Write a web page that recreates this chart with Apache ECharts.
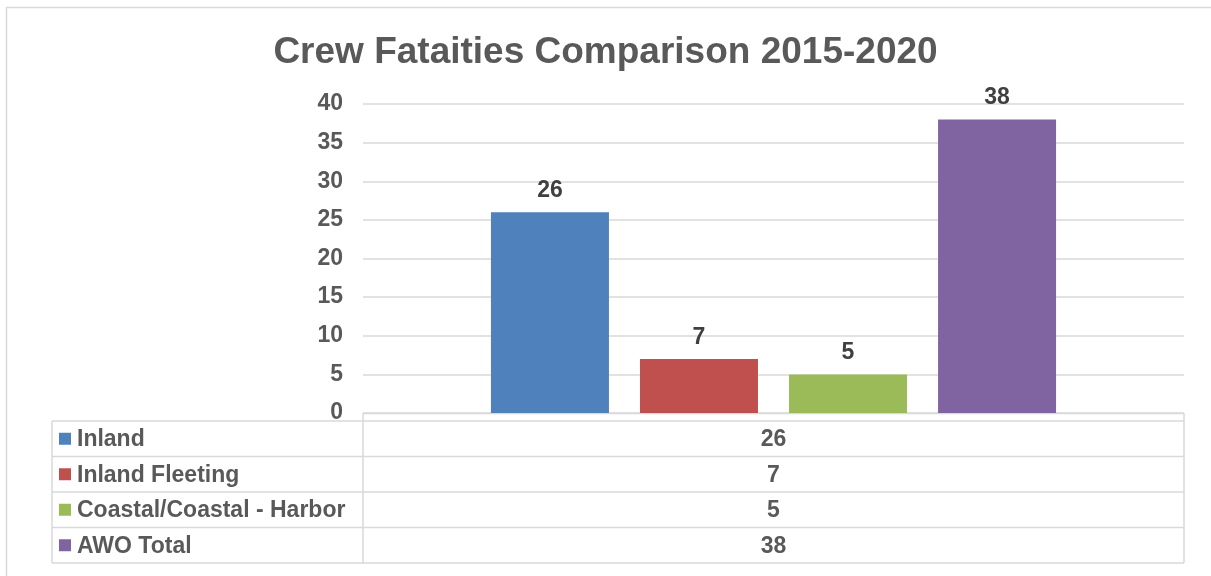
<!DOCTYPE html>
<html>
<head>
<meta charset="utf-8">
<script src="https://cdn.jsdelivr.net/npm/echarts@6/dist/echarts.min.js"></script>
<style>
html,body{margin:0;padding:0;background:#fff;}
#main{width:1211px;height:576px;}
</style>
</head>
<body>
<div id="main"></div>
<script>
const titleText = 'Crew Fataities Comparison 2015-2020';
const categories = [''];
const seriesNames = ['Inland', 'Inland Fleeting', 'Coastal/Coastal - Harbor', 'AWO Total'];
const seriesValues = [[26], [7], [5], [38]];
const seriesColors = ['#4F81BD', '#C0504D', '#9BBB59', '#8064A2'];
const yTicks = [0, 5, 10, 15, 20, 25, 30, 35, 40];

const FONT = 'Arial, "Liberation Sans", sans-serif';
const W = 1211, H = 576;
const gridLeft = 363, gridRight = 1184, gridTop = 104, gridBottom = 413;
const lineColor = '#D9D9D9';
const FS = 23;

const chart = echarts.init(document.getElementById('main'), null, {renderer: 'canvas'});

const series = seriesNames.map((name, i) => ({
  name: name,
  type: 'bar',
  data: seriesValues[i],
  barWidth: 118,
  barGap: '26.3%',
  itemStyle: {color: seriesColors[i]},
  label: {
    show: true,
    position: 'top',
    distance: 10,
    fontFamily: FONT,
    fontWeight: 'bold',
    fontSize: FS,
    color: '#404040'
  }
}));

const rowLines = [421, 456.5, 492, 527.5, 563];
const graphics = [];
graphics.push({type: 'rect', shape: {x: 6.5, y: 7.5, width: 1220, height: 600},
  style: {fill: null, stroke: lineColor, lineWidth: 1.5}, silent: true});
graphics.push({type: 'line', shape: {x1: gridLeft, y1: gridBottom + 0.5, x2: gridRight, y2: gridBottom + 0.5},
  style: {stroke: lineColor, lineWidth: 1.5}});
rowLines.forEach(y => {
  graphics.push({type: 'line', shape: {x1: 52, y1: y, x2: gridRight, y2: y},
    style: {stroke: lineColor, lineWidth: 1.5}});
});
graphics.push({type: 'line', shape: {x1: 52, y1: rowLines[0], x2: 52, y2: rowLines[4]}, style: {stroke: lineColor, lineWidth: 1.5}});
graphics.push({type: 'line', shape: {x1: gridLeft, y1: gridBottom, x2: gridLeft, y2: rowLines[4]}, style: {stroke: lineColor, lineWidth: 1.5}});
graphics.push({type: 'line', shape: {x1: gridRight, y1: gridBottom, x2: gridRight, y2: rowLines[4]}, style: {stroke: lineColor, lineWidth: 1.5}});

seriesNames.forEach((name, i) => {
  const cy = (rowLines[i] + rowLines[i + 1]) / 2;
  graphics.push({type: 'rect', shape: {x: 59, y: cy - 6, width: 12, height: 12},
    style: {fill: seriesColors[i]}});
  graphics.push({type: 'text', x: 77, y: cy + 1,
    style: {text: name, font: 'bold ' + FS + 'px ' + FONT, fill: '#595959', textVerticalAlign: 'middle', textAlign: 'left'}});
  graphics.push({type: 'text', x: (gridLeft + gridRight) / 2, y: cy + 1,
    style: {text: String(seriesValues[i][0]), font: 'bold ' + FS + 'px ' + FONT, fill: '#595959', textVerticalAlign: 'middle', textAlign: 'center'}});
});

chart.setOption({
  animation: false,
  backgroundColor: '#fff',
  title: {
    text: titleText,
    left: 'center',
    top: 29,
    textStyle: {fontFamily: FONT, fontWeight: 'bold', fontSize: 37, color: '#595959'}
  },
  grid: {left: gridLeft, right: W - gridRight, top: gridTop, bottom: H - gridBottom, containLabel: false},
  xAxis: {
    type: 'category',
    data: categories,
    axisLine: {show: false},
    axisTick: {show: false},
    axisLabel: {show: false}
  },
  yAxis: {
    type: 'value',
    min: yTicks[0],
    max: yTicks[yTicks.length - 1],
    interval: yTicks[1] - yTicks[0],
    axisLine: {show: false},
    axisTick: {show: false},
    axisLabel: {
      margin: 20,
      fontFamily: FONT, fontWeight: 'bold', fontSize: FS, color: '#595959',
      formatter: v => yTicks.indexOf(v) >= 0 ? String(v) : ''
    },
    splitLine: {lineStyle: {color: lineColor, width: 1.5}}
  },
  series: series,
  graphic: graphics
});
</script>
</body>
</html>
